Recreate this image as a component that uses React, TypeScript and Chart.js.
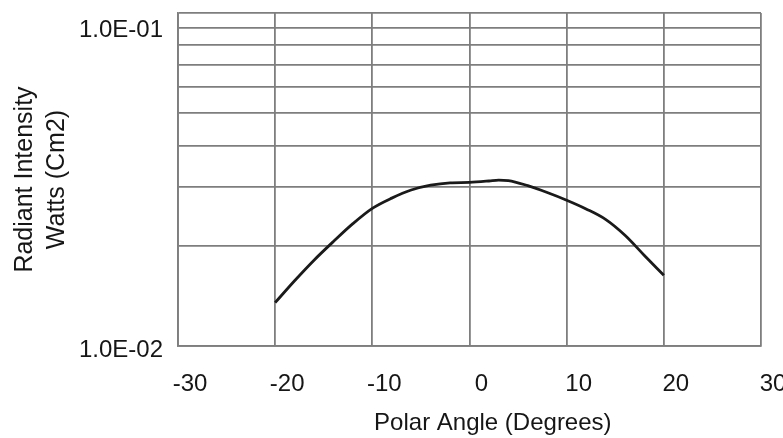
import { useEffect, useRef } from 'react';
import { Chart, registerables } from 'chart.js';

Chart.register(...registerables);

// Polar angle (degrees)
const ANGLES = [-20, -18, -16, -14, -12, -10, -8, -6, -4, -2, 0, 2, 3, 4, 6, 8, 10, 12, 14, 16, 18, 20];
// Radiant intensity (W/cm2)
const INTENSITY = [
  0.0135, 0.0157, 0.0181, 0.0206, 0.0233, 0.0259, 0.0278, 0.0294, 0.0304, 0.0309, 0.031,
  0.0313, 0.0315, 0.0314, 0.0303, 0.0289, 0.0274, 0.0258, 0.024, 0.0215, 0.0187, 0.0163,
];
const X_TICKS = [-30, -20, -10, 0, 10, 20, 30];
const Y_TICKS = [0.01, 0.02, 0.03, 0.04, 0.05, 0.06, 0.07, 0.08, 0.09, 0.1];
const Y_TICK_LABELS = ['1.0E-02', '1.0E-01'];
const X_TITLE = 'Polar Angle (Degrees)';
const Y_TITLE = ['Radiant Intensity', 'Watts (Cm2)'];

const FONT = 'Liberation Sans, Arial, Helvetica, sans-serif';
const GRID = '#7e7e7e';
const TEXT = '#161616';

export default function App() {
  const ref = useRef<HTMLCanvasElement | null>(null);

  useEffect(() => {
    if (!ref.current) return;
    const chart = new Chart(ref.current, {
      type: 'line',
      data: {
        datasets: [
          {
            data: ANGLES.map((a, i) => ({ x: a, y: INTENSITY[i] })),
            borderColor: '#1a1a1a',
            borderWidth: 2.8,
            pointRadius: 0,
            cubicInterpolationMode: 'monotone',
            fill: false,
          },
        ],
      },
      options: {
        animation: false,
        responsive: false,
        layout: { padding: { left: 0, top: 13, right: 22, bottom: 0 } },
        plugins: { legend: { display: false }, tooltip: { enabled: false } },
        scales: {
          x: {
            type: 'linear',
            min: -30,
            max: 30,
            afterBuildTicks: (s: any) => {
              s.ticks = X_TICKS.map((v) => ({ value: v }));
            },
            afterFit: (s: any) => {
              s.height = 92;
              s.paddingLeft = 0;
              s.paddingRight = 0;
            },
            grid: { color: GRID, lineWidth: 1.8, drawTicks: false },
            border: { display: true, color: GRID, width: 1.8 },
            ticks: {
              color: TEXT,
              font: { family: FONT, size: 24, lineHeight: 1.2 },
              padding: 24,
              labelOffset: 12,
              maxRotation: 0,
              autoSkip: false,
              callback: (v: any) => String(v),
            },
            title: {
              display: true,
              text: '       ' + X_TITLE,
              color: TEXT,
              font: { family: FONT, size: 24, lineHeight: 1.2 },
              padding: { top: 0, bottom: 0 },
            },
          },
          y: {
            type: 'logarithmic',
            min: 0.01,
            max: 0.1,
            afterBuildTicks: (s: any) => {
              s.ticks = Y_TICKS.map((v) => ({ value: v }));
            },
            afterFit: (s: any) => {
              s.width = 178;
              s.paddingTop = 0;
              s.paddingBottom = 0;
            },
            grid: { color: GRID, lineWidth: 1.8, drawTicks: false },
            border: { display: true, color: GRID, width: 1.8 },
            ticks: {
              color: TEXT,
              font: { family: FONT, size: 24, lineHeight: 1.083 },
              padding: 15,
              labelOffset: 4,
              autoSkip: false,
              callback: (v: any) => {
                if (Math.abs(v - Y_TICKS[0]) < 1e-9) return Y_TICK_LABELS[0];
                if (Math.abs(v - Y_TICKS[Y_TICKS.length - 1]) < 1e-9) return ['', Y_TICK_LABELS[1]];
                return '';
              },
            },
            title: {
              display: true,
              text: Y_TITLE,
              color: TEXT,
              font: { family: FONT, size: 25, lineHeight: 1.28 },
              padding: { top: 9, bottom: 0 },
            },
          },
        },
      },
    });
    return () => chart.destroy();
  }, []);

  return (
    <div style={{ position: 'fixed', left: 0, top: 0, width: 783, height: 438, background: '#fff' }}>
      <canvas ref={ref} width={783} height={438} style={{ width: 783, height: 438 }} />
    </div>
  );
}
